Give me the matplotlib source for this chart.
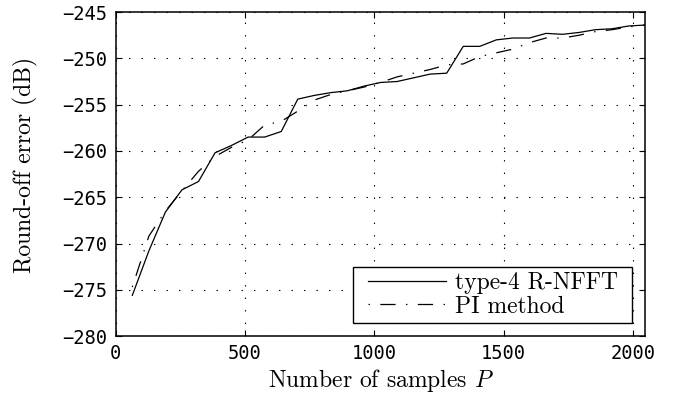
import numpy as np
import matplotlib
matplotlib.use("Agg")
import matplotlib.pyplot as plt
from matplotlib.patches import Rectangle

plt.rcParams['mathtext.fontset'] = 'cm'
plt.rcParams['lines.scale_dashes'] = False

# number of samples P
P = np.arange(64, 2049, 64)

# round-off error (dB)
rnfft = [-275.6, -270.8, -266.6, -264.2, -263.3, -260.2, -259.4, -258.5,
         -258.5, -257.9, -254.4, -254.0, -253.7, -253.5, -253.0, -252.6,
         -252.5, -252.1, -251.7, -251.6, -248.7, -248.7, -248.0, -247.8,
         -247.8, -247.3, -247.4, -247.2, -246.9, -246.8, -246.5, -246.4]
pi_method = [-274.7, -269.2, -266.5, -264.3, -262.2, -260.6, -259.6, -258.8,
             -257.2, -256.8, -255.7, -254.5, -253.9, -253.5, -253.1, -252.6,
             -252.0, -251.6, -251.2, -250.7, -250.6, -249.8, -249.4, -249.0,
             -248.3, -247.8, -247.8, -247.5, -247.1, -246.9, -246.6, -246.4]

xticks = [0, 500, 1000, 1500, 2000]
yticks = [-280, -275, -270, -265, -260, -255, -250, -245]

fig = plt.figure(figsize=(6.85, 4.03), dpi=100)
ax = fig.add_axes([0.169, 0.166, 0.773, 0.804])

ax.plot(P, rnfft, color='black', lw=0.9, label='type-4 R-NFFT')
ax.plot(P, pi_method, color='black', lw=0.9,
        linestyle=(18.5, (11, 7.5, 1, 7.5)), label='PI method')

ax.set_xlim(0, 2048)
ax.set_ylim(-280, -245)
ax.set_xticks(xticks)
ax.set_yticks(yticks)
ax.grid(True, color='black', linestyle=(0, (1, 8)), lw=0.8)

ax.tick_params(direction='in', top=True, right=True, length=4.5, width=0.8,
               labelsize=13.5, pad=6)
for lab in ax.get_xticklabels() + ax.get_yticklabels():
    lab.set_family('DejaVu Sans Mono')
for s in ax.spines.values():
    s.set_linewidth(1.1)

ax.set_xlabel('Number of samples $P$', family='cmr10', fontsize=17, va='center')
ax.set_ylabel('Round-off error (dB)', family='cmr10', fontsize=17, va='center')
ax.xaxis.set_label_coords(0.5, -0.136)
ax.yaxis.set_label_coords(-0.17, 0.529)

# legend box drawn by hand so the padding matches
ax.add_patch(Rectangle((0.448, 0.040), 0.527, 0.173, transform=ax.transAxes,
                       facecolor='white', edgecolor='black', lw=1.0, zorder=4))
leg = ax.legend(loc='center right', bbox_to_anchor=(0.949, 0.127),
                borderaxespad=0, borderpad=0, frameon=False,
                prop={'family': 'cmr10', 'size': 17},
                handlelength=3.3, handletextpad=0.4, labelspacing=0.05)
leg.set_zorder(5)

fig.savefig('out.png', dpi=100)
